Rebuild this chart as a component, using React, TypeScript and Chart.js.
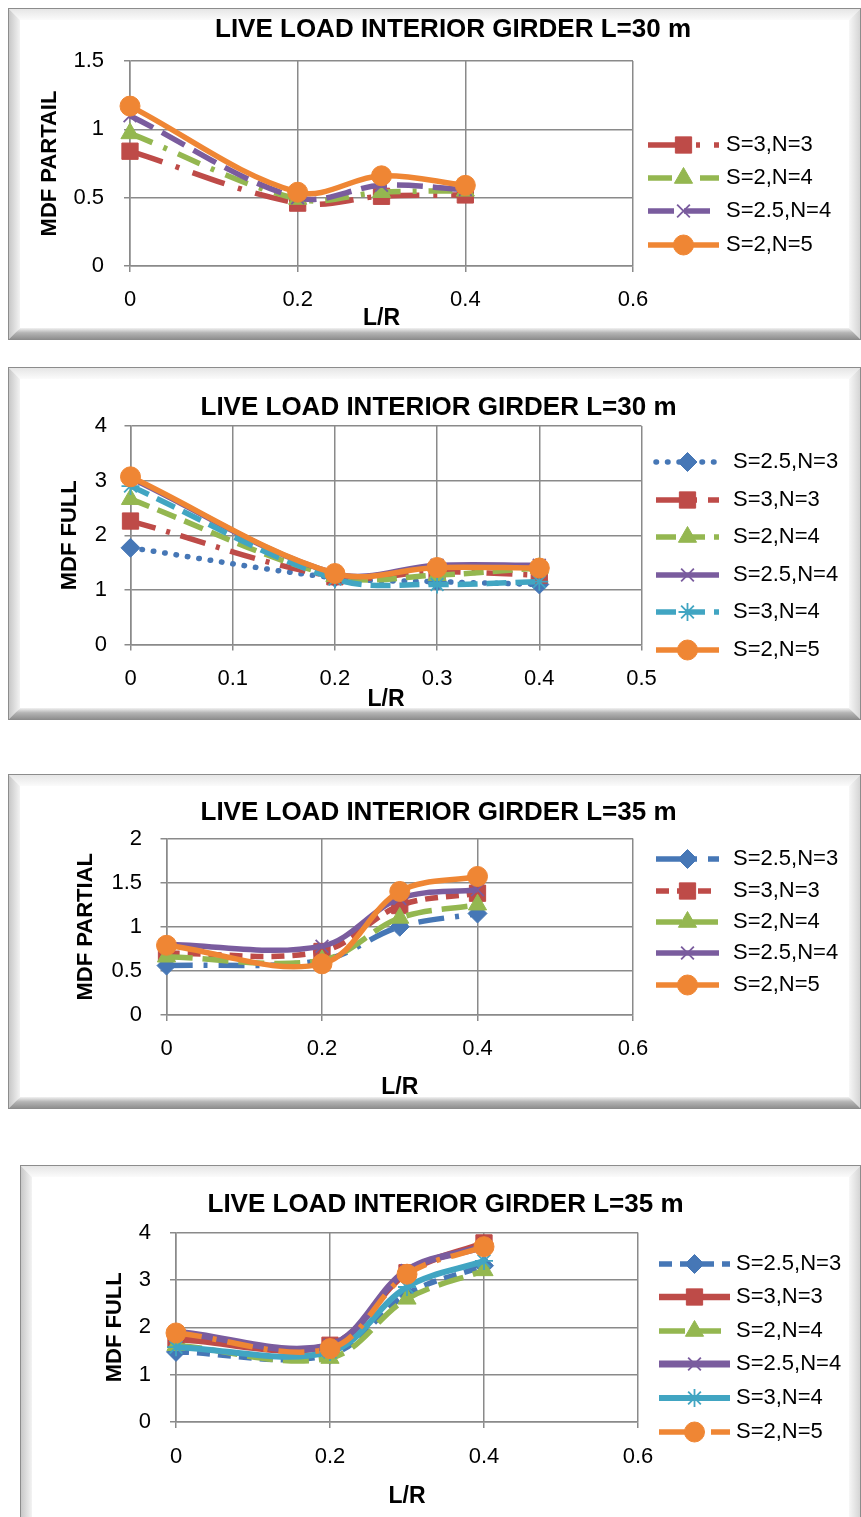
import React, { useEffect, useRef } from "react";
import { Chart, registerables } from "chart.js";
import { drawPoint } from "chart.js/helpers";

Chart.register(...registerables);

// ---------------- data ----------------
const LR = [0, 0.2, 0.3, 0.4];

const L30_PARTIAL_LABELS = ["S=3,N=3", "S=2,N=4", "S=2.5,N=4", "S=2,N=5"];
const L30_PARTIAL_S3N3 = [0.84, 0.46, 0.51, 0.52];
const L30_PARTIAL_S2N4 = [0.97, 0.49, 0.54, 0.55];
const L30_PARTIAL_S25N4 = [1.1, 0.5, 0.59, 0.56];
const L30_PARTIAL_S2N5 = [1.17, 0.54, 0.66, 0.59];

const L30_FULL_LABELS = ["S=2.5,N=3", "S=3,N=3", "S=2,N=4", "S=2.5,N=4", "S=3,N=4", "S=2,N=5"];
const L30_FULL_S25N3 = [1.77, 1.22, 1.15, 1.1];
const L30_FULL_S3N3 = [2.26, 1.24, 1.33, 1.27];
const L30_FULL_S2N4 = [2.66, 1.25, 1.27, 1.4];
const L30_FULL_S25N4 = [3.05, 1.3, 1.45, 1.45];
const L30_FULL_S3N4 = [2.9, 1.2, 1.1, 1.15];
const L30_FULL_S2N5 = [3.07, 1.3, 1.41, 1.4];

const L35_PARTIAL_LABELS = ["S=2.5,N=3", "S=3,N=3", "S=2,N=4", "S=2.5,N=4", "S=2,N=5"];
const L35_PARTIAL_S25N3 = [0.56, 0.62, 1.0, 1.15];
const L35_PARTIAL_S3N3 = [0.7, 0.72, 1.24, 1.38];
const L35_PARTIAL_S2N4 = [0.66, 0.62, 1.1, 1.25];
const L35_PARTIAL_S25N4 = [0.8, 0.78, 1.32, 1.42];
const L35_PARTIAL_S2N5 = [0.79, 0.58, 1.4, 1.57];

const L35_FULL_LABELS = ["S=2.5,N=3", "S=3,N=3", "S=2,N=4", "S=2.5,N=4", "S=3,N=4", "S=2,N=5"];
const L35_FULL_S25N3 = [1.48, 1.42, 2.7, 3.3];
const L35_FULL_S3N3 = [1.75, 1.62, 3.15, 3.78];
const L35_FULL_S2N4 = [1.62, 1.35, 2.6, 3.2];
const L35_FULL_S25N4 = [1.9, 1.62, 3.2, 3.7];
const L35_FULL_S3N4 = [1.58, 1.48, 2.85, 3.4];
const L35_FULL_S2N5 = [1.88, 1.55, 3.12, 3.7];

const TITLE_L30 = "LIVE LOAD INTERIOR GIRDER L=30 m";
const TITLE_L35 = "LIVE LOAD INTERIOR GIRDER L=35 m";

// ---------------- styles ----------------
const BLUE = "#4677B6";
const RED = "#BE4B48";
const GREEN = "#94B750";
const PURPLE = "#7A5C9E";
const TEAL = "#41A5C2";
const ORANGE = "#EF8634";
const GRID = "#8a8a8a";
const FONT = '"Liberation Sans", Arial, sans-serif';

const SOLID: number[] = [];
const DOTTED = [0.5, 11];
const DASHDOT = [26, 11, 4, 11];
const LONGDASH = [26, 10];
const DASH = [20, 9];
const SHORTDASH = [13, 8];

const MK = {
  rect: { style: "rect", r: 11.5, bw: 1 },
  tri: { style: "triangle", r: 10.5, bw: 1 },
  x: { style: "crossRot", r: 9, bw: 1.8 },
  circ: { style: "circle", r: 10, bw: 1 },
  dia: { style: "rectRot", r: 9.5, bw: 1 },
  star: { style: "star", r: 9, bw: 1.8 },
};

type Ser = { label: string; values: number[]; color: string; dash: number[]; cap?: string; mk: any; width?: number };

type PanelDef = {
  box: { left: number; top: number; width: number; height: number };
  ca: { left: number; right: number; top: number; bottom: number }; // canvas coords
  xMax: number;
  xStep: number;
  yMax: number;
  yStep: number;
  yTitle: string;
  yTickPad: number;
  yTitlePad: number;
  xTickPad: number;
  xTitlePad: number;
  title: string;
  titleX: number;
  titleY: number;
  legX0: number;
  legX1: number;
  legTextX: number;
  legY: number[];
  series: Ser[];
};

const PANELS: PanelDef[] = [
  {
    box: { left: 8, top: 8, width: 853, height: 332 },
    ca: { left: 122, right: 625, top: 53, bottom: 258 },
    xMax: 0.6, xStep: 0.2, yMax: 1.5, yStep: 0.5,
    yTitle: "MDF PARTAIL", yTickPad: 20, yTitlePad: 31, xTickPad: 17, xTitlePad: 9.5,
    title: TITLE_L30, titleX: 445, titleY: 22,
    legX0: 640, legX1: 711, legTextX: 718, legY: [137, 170, 203, 237],
    series: [
      { label: L30_PARTIAL_LABELS[0], values: L30_PARTIAL_S3N3, color: RED, dash: [34, 14, 4, 14], mk: MK.rect },
      { label: L30_PARTIAL_LABELS[1], values: L30_PARTIAL_S2N4, color: GREEN, dash: [24, 12, 4, 12], mk: MK.tri },
      { label: L30_PARTIAL_LABELS[2], values: L30_PARTIAL_S25N4, color: PURPLE, dash: LONGDASH, mk: MK.x },
      { label: L30_PARTIAL_LABELS[3], values: L30_PARTIAL_S2N5, color: ORANGE, dash: SOLID, mk: MK.circ },
    ],
  },
  {
    box: { left: 8, top: 367, width: 853, height: 353 },
    ca: { left: 122.5, right: 633.5, top: 59, bottom: 277.5 },
    xMax: 0.5, xStep: 0.1, yMax: 4, yStep: 1,
    yTitle: "MDF FULL", yTickPad: 17.5, yTitlePad: 51, xTickPad: 17.5, xTitlePad: 8.5,
    title: TITLE_L30, titleX: 430.5, titleY: 41,
    legX0: 648, legX1: 711, legTextX: 725, legY: [95, 133, 170, 208, 245, 283],
    series: [
      { label: L30_FULL_LABELS[0], values: L30_FULL_S25N3, color: BLUE, dash: DOTTED, cap: "round", mk: MK.dia },
      { label: L30_FULL_LABELS[1], values: L30_FULL_S3N3, color: RED, dash: DASHDOT, mk: MK.rect },
      { label: L30_FULL_LABELS[2], values: L30_FULL_S2N4, color: GREEN, dash: DASH, mk: MK.tri },
      { label: L30_FULL_LABELS[3], values: L30_FULL_S25N4, color: PURPLE, dash: SOLID, mk: MK.x },
      { label: L30_FULL_LABELS[4], values: L30_FULL_S3N4, color: TEAL, dash: DASH, mk: MK.star },
      { label: L30_FULL_LABELS[5], values: L30_FULL_S2N5, color: ORANGE, dash: SOLID, mk: MK.circ },
    ],
  },
  {
    box: { left: 8, top: 774, width: 853, height: 335 },
    ca: { left: 158.5, right: 625, top: 64.5, bottom: 241 },
    xMax: 0.6, xStep: 0.2, yMax: 2, yStep: 0.5,
    yTitle: "MDF PARTIAL", yTickPad: 18.5, yTitlePad: 67, xTickPad: 17, xTitlePad: 9.5,
    title: TITLE_L35, titleX: 430.5, titleY: 39,
    legX0: 648, legX1: 711, legTextX: 725, legY: [85, 117, 148, 179, 211],
    series: [
      { label: L35_PARTIAL_LABELS[0], values: L35_PARTIAL_S25N3, color: BLUE, dash: DASHDOT, mk: MK.dia },
      { label: L35_PARTIAL_LABELS[1], values: L35_PARTIAL_S3N3, color: RED, dash: SHORTDASH, mk: MK.rect },
      { label: L35_PARTIAL_LABELS[2], values: L35_PARTIAL_S2N4, color: GREEN, dash: LONGDASH, mk: MK.tri },
      { label: L35_PARTIAL_LABELS[3], values: L35_PARTIAL_S25N4, color: PURPLE, dash: SOLID, mk: MK.x },
      { label: L35_PARTIAL_LABELS[4], values: L35_PARTIAL_S2N5, color: ORANGE, dash: SOLID, mk: MK.circ },
    ],
  },
  {
    box: { left: 20, top: 1165, width: 841, height: 365 },
    ca: { left: 156, right: 618, top: 67.5, bottom: 257 },
    xMax: 0.6, xStep: 0.2, yMax: 4, yStep: 1,
    yTitle: "MDF FULL", yTickPad: 19, yTitlePad: 84, xTickPad: 18, xTitlePad: 21.5,
    title: TITLE_L35, titleX: 425.5, titleY: 40,
    legX0: 639, legX1: 710, legTextX: 716, legY: [99, 132, 166, 199, 233, 267],
    series: [
      { label: L35_FULL_LABELS[0], values: L35_FULL_S25N3, color: BLUE, dash: SHORTDASH, mk: MK.dia },
      { label: L35_FULL_LABELS[1], values: L35_FULL_S3N3, color: RED, dash: SOLID, mk: MK.rect, width: 6.5 },
      { label: L35_FULL_LABELS[2], values: L35_FULL_S2N4, color: GREEN, dash: LONGDASH, mk: MK.tri },
      { label: L35_FULL_LABELS[3], values: L35_FULL_S25N4, color: PURPLE, dash: SOLID, mk: MK.x, width: 7 },
      { label: L35_FULL_LABELS[4], values: L35_FULL_S3N4, color: TEAL, dash: SOLID, mk: MK.star, width: 6 },
      { label: L35_FULL_LABELS[5], values: L35_FULL_S2N5, color: ORANGE, dash: DASHDOT, mk: MK.circ },
    ],
  },
];

// ---------------- overlay plugin: title + legend ----------------
const overlayPlugin = {
  id: "overlay",
  afterDraw(chart: any, _args: any, opts: any) {
    const ctx = chart.ctx;
    ctx.save();
    ctx.fillStyle = "#000";
    ctx.font = `bold 26px ${FONT}`;
    ctx.textAlign = "center";
    ctx.textBaseline = "middle";
    ctx.fillText(opts.title, opts.titleX, opts.titleY);

    chart.data.datasets.forEach((ds: any, i: number) => {
      const y = opts.legY[i];
      ctx.save();
      ctx.strokeStyle = ds.borderColor;
      ctx.lineWidth = ds.borderWidth;
      ctx.lineCap = ds.borderCapStyle || "butt";
      ctx.setLineDash(ds.borderDash || []);
      ctx.beginPath();
      ctx.moveTo(opts.x0, y);
      ctx.lineTo(opts.x1, y);
      ctx.stroke();
      ctx.setLineDash([]);
      ctx.lineCap = "butt";
      ctx.fillStyle = ds.pointBackgroundColor;
      ctx.strokeStyle = ds.pointBorderColor;
      ctx.lineWidth = ds.pointBorderWidth;
      drawPoint(
        ctx,
        { pointStyle: ds.pointStyle, radius: ds.pointRadius, borderWidth: ds.pointBorderWidth, rotation: 0 } as any,
        (opts.x0 + opts.x1) / 2,
        y
      );
      ctx.restore();
      ctx.fillStyle = "#000";
      ctx.font = `22px ${FONT}`;
      ctx.textAlign = "left";
      ctx.textBaseline = "middle";
      ctx.fillText(ds.label, opts.textX, y);
    });
    ctx.restore();
  },
};

const fmtTick = (v: any) => String(Number(Number(v).toFixed(3)));

function makeConfig(p: PanelDef): any {
  const n = p.series.length;
  const W = p.box.width;
  const H = p.box.height;
  return {
    type: "line",
    data: {
      datasets: p.series.map((s, i) => ({
        label: s.label,
        data: LR.map((x, j) => ({ x, y: s.values[j] })),
        borderColor: s.color,
        backgroundColor: s.color,
        borderWidth: s.width || 5.5,
        borderDash: s.dash,
        borderCapStyle: s.cap || "butt",
        borderJoinStyle: "round",
        pointStyle: s.mk.style,
        pointRadius: s.mk.r,
        pointHoverRadius: s.mk.r,
        pointBackgroundColor: s.color,
        pointBorderColor: s.color,
        pointBorderWidth: s.mk.bw,
        tension: 0.35,
        fill: false,
        clip: false,
        order: n - i,
      })),
    },
    options: {
      animation: false,
      responsive: false,
      events: [],
      layout: { padding: { left: 0, top: p.ca.top, right: W - p.ca.right, bottom: 0 } },
      plugins: {
        legend: { display: false },
        title: { display: false },
        tooltip: { enabled: false },
        overlay: {
          title: p.title,
          titleX: p.titleX,
          titleY: p.titleY,
          x0: p.legX0,
          x1: p.legX1,
          textX: p.legTextX,
          legY: p.legY,
        },
      },
      scales: {
        x: {
          type: "linear",
          min: 0,
          max: p.xMax,
          ticks: {
            stepSize: p.xStep,
            padding: p.xTickPad,
            color: "#000",
            font: { family: FONT, size: 22, lineHeight: 1 },
            maxRotation: 0,
            autoSkip: false,
            callback: fmtTick,
          },
          grid: { color: GRID, lineWidth: 1.5, tickLength: 6 },
          border: { color: GRID, width: 1.5 },
          title: {
            display: true,
            text: "L/R",
            color: "#000",
            font: { family: FONT, size: 23, weight: "bold", lineHeight: 1 },
            padding: { top: 0, bottom: p.xTitlePad },
          },
          afterFit: (s: any) => {
            s.height = H - p.ca.bottom;
          },
        },
        y: {
          type: "linear",
          min: 0,
          max: p.yMax,
          ticks: {
            stepSize: p.yStep,
            padding: p.yTickPad,
            color: "#000",
            font: { family: FONT, size: 22, lineHeight: 1 },
            callback: fmtTick,
          },
          grid: { color: GRID, lineWidth: 1.5, tickLength: 6 },
          border: { color: GRID, width: 1.5 },
          title: {
            display: true,
            text: p.yTitle,
            color: "#000",
            font: { family: FONT, size: 22, weight: "bold", lineHeight: 1 },
            padding: { top: p.yTitlePad, bottom: 0 },
          },
          afterFit: (s: any) => {
            s.width = p.ca.left;
          },
        },
      },
    },
    plugins: [overlayPlugin],
  };
}

const B = 12;

function Bevel() {
  const common: React.CSSProperties = { position: "absolute" };
  return (
    <>
      <div
        style={{
          ...common,
          left: 0,
          top: 0,
          right: 0,
          height: B,
          background: "linear-gradient(#e4e4e4, #fbfbfb)",
          clipPath: `polygon(0 0, 100% 0, calc(100% - ${B}px) 100%, ${B}px 100%)`,
        }}
      />
      <div
        style={{
          ...common,
          left: 0,
          top: 0,
          bottom: 0,
          width: B,
          background: "linear-gradient(to right, #c4c4c4, #f3f3f3)",
          clipPath: `polygon(0 0, 100% ${B}px, 100% calc(100% - ${B}px), 0 100%)`,
        }}
      />
      <div
        style={{
          ...common,
          right: 0,
          top: 0,
          bottom: 0,
          width: B,
          background: "linear-gradient(to left, #d2d2d2, #f7f7f7)",
          clipPath: `polygon(0 ${B}px, 100% 0, 100% 100%, 0 calc(100% - ${B}px))`,
        }}
      />
      <div
        style={{
          ...common,
          left: 0,
          right: 0,
          bottom: 0,
          height: B,
          background: "linear-gradient(#f2f2f2 0%, #b4b4b4 40%, #8a8a8a 100%)",
          clipPath: `polygon(${B}px 0, calc(100% - ${B}px) 0, 100% 100%, 0 100%)`,
        }}
      />
      <div
        style={{
          ...common,
          left: 0,
          top: 0,
          right: 0,
          bottom: 0,
          border: "1px solid #8c8c8c",
          boxSizing: "border-box",
        }}
      />
    </>
  );
}

function Panel({ def }: { def: PanelDef }) {
  const ref = useRef<HTMLCanvasElement | null>(null);
  useEffect(() => {
    if (!ref.current) return;
    const chart = new Chart(ref.current, makeConfig(def));
    return () => chart.destroy();
  }, [def]);
  return (
    <div
      style={{
        position: "absolute",
        left: def.box.left,
        top: def.box.top,
        width: def.box.width,
        height: def.box.height,
        background: "#fff",
      }}
    >
      <Bevel />
      <canvas
        ref={ref}
        width={def.box.width}
        height={def.box.height}
        style={{ position: "absolute", left: 0, top: 0, width: def.box.width, height: def.box.height }}
      />
    </div>
  );
}

export default function App() {
  return (
    <div
      style={{
        position: "absolute",
        left: 0,
        top: 0,
        width: 861,
        height: 1517,
        overflow: "hidden",
        background: "#fff",
      }}
    >
      {PANELS.map((p, i) => (
        <Panel key={i} def={p} />
      ))}
    </div>
  );
}
